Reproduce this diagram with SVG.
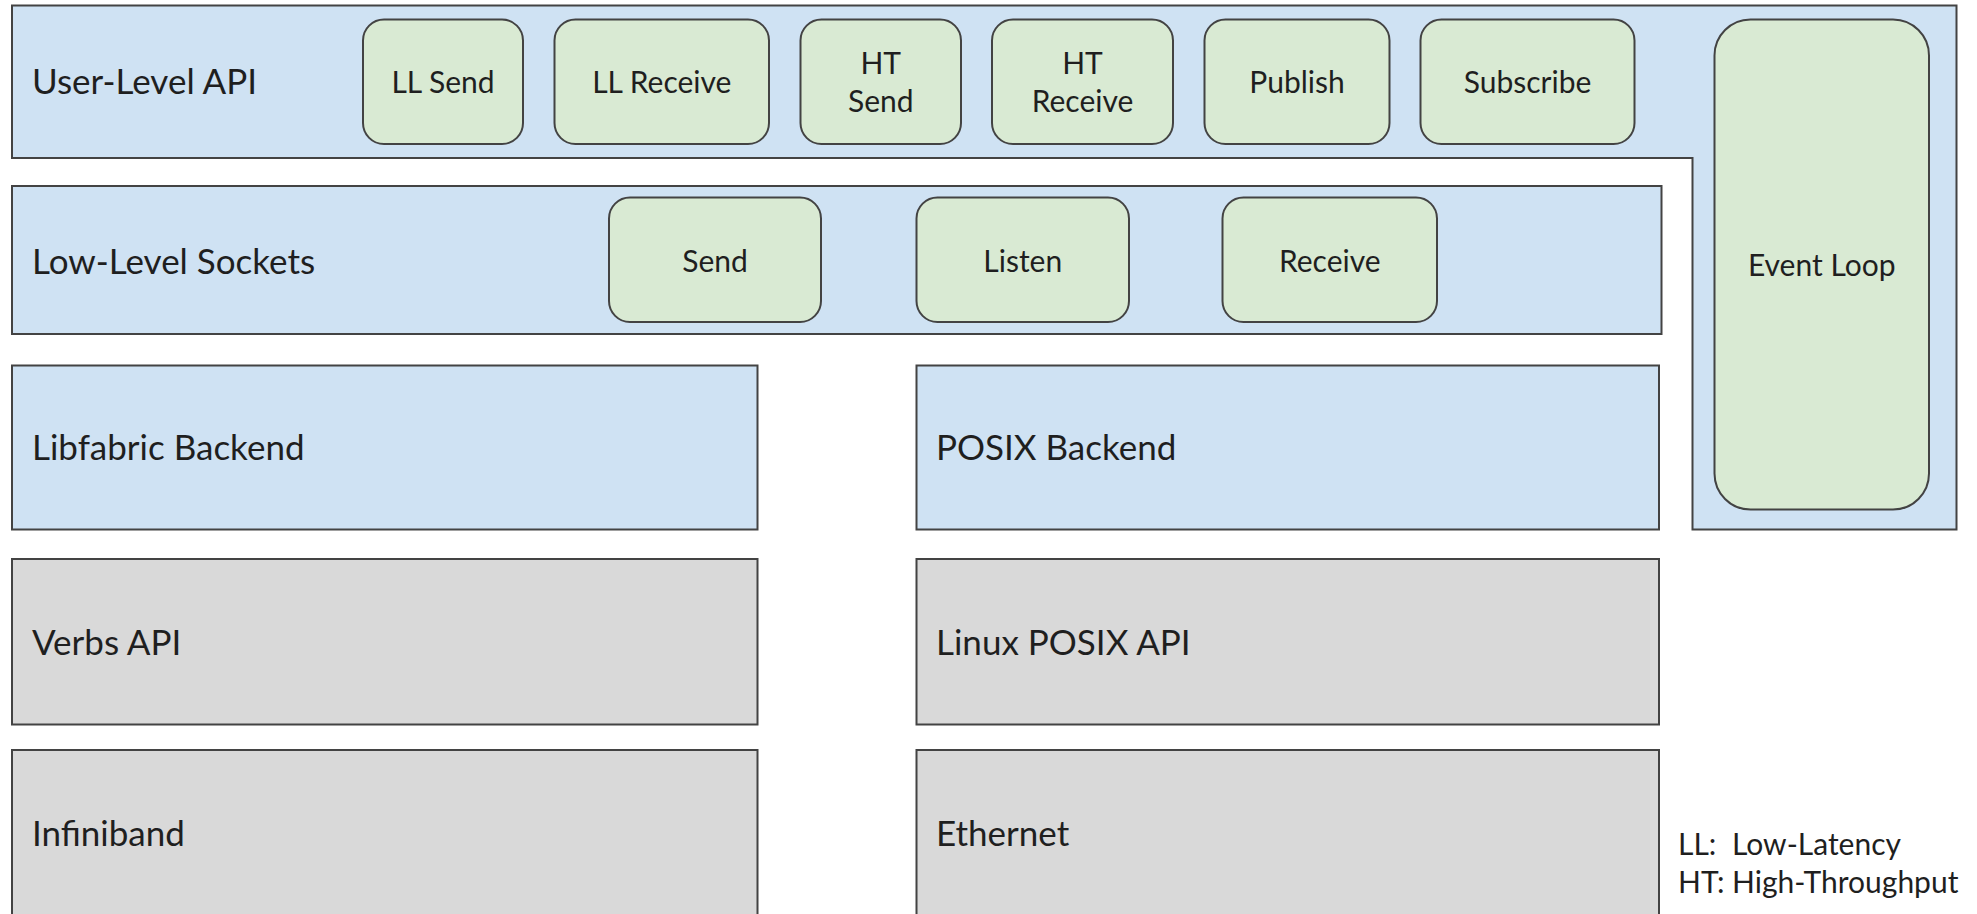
<svg xmlns="http://www.w3.org/2000/svg" width="1977" height="914" viewBox="0 0 1977 914">
  <style>
    .layer { fill: #cfe2f3; stroke: #434343; stroke-width: 2; }
    .hw { fill: #d9d9d9; stroke: #434343; stroke-width: 2; }
    .op { fill: #d9ead3; stroke: #434343; stroke-width: 2; }
    text { font-family: Lato, "Liberation Sans", sans-serif; fill: #1f1f1f; }
    .big { font-size: 35px; }
    .lbl { font-size: 30px; text-anchor: middle; }
    .note { font-size: 30px; }
  </style>
  <rect width="1977" height="914" fill="#ffffff"/>

  <!-- user-level API band, wrapping around the event loop column -->
  <g id="user-level-api">
    <path class="layer" d="M12 5.5 H1956.5 V529.5 H1692.5 V158 H12 Z"/>
    <text class="big" x="32" y="93.5">User-Level API</text>
  </g>
  <g id="ll-send">
    <rect class="op" x="363" y="19.5" width="160" height="124.5" rx="21"/>
    <text class="lbl" x="443" y="93.3">LL Send</text>
  </g>
  <g id="ll-receive">
    <rect class="op" x="554.5" y="19.5" width="214.5" height="124.5" rx="21"/>
    <text class="lbl" x="661.75" y="93.3">LL Receive</text>
  </g>
  <g id="ht-send">
    <rect class="op" x="800.5" y="19.5" width="160.5" height="124.5" rx="21"/>
    <text class="lbl" x="880.75" y="74">HT</text>
    <text class="lbl" x="880.75" y="111.7">Send</text>
  </g>
  <g id="ht-receive">
    <rect class="op" x="992" y="19.5" width="181" height="124.5" rx="21"/>
    <text class="lbl" x="1082.5" y="74">HT</text>
    <text class="lbl" x="1082.5" y="111.7">Receive</text>
  </g>
  <g id="publish">
    <rect class="op" x="1204.5" y="19.5" width="185" height="124.5" rx="21"/>
    <text class="lbl" x="1297" y="93.3">Publish</text>
  </g>
  <g id="subscribe">
    <rect class="op" x="1420.5" y="19.5" width="214" height="124.5" rx="21"/>
    <text class="lbl" x="1527.5" y="93.3">Subscribe</text>
  </g>
  <g id="event-loop">
    <rect class="op" x="1714.5" y="19.5" width="214.5" height="490" rx="36"/>
    <text class="lbl" x="1821.75" y="275.5">Event Loop</text>
  </g>

  <!-- low-level sockets band -->
  <g id="low-level-sockets">
    <rect class="layer" x="12" y="186" width="1649.5" height="148"/>
    <text class="big" x="32" y="273.5">Low-Level Sockets</text>
  </g>
  <g id="send">
    <rect class="op" x="609" y="197.5" width="212" height="124.5" rx="21"/>
    <text class="lbl" x="715" y="271.5">Send</text>
  </g>
  <g id="listen">
    <rect class="op" x="916.5" y="197.5" width="212.5" height="124.5" rx="21"/>
    <text class="lbl" x="1022.75" y="271.5">Listen</text>
  </g>
  <g id="receive">
    <rect class="op" x="1222.5" y="197.5" width="214.5" height="124.5" rx="21"/>
    <text class="lbl" x="1329.75" y="271.5">Receive</text>
  </g>

  <!-- backends -->
  <g id="libfabric-backend">
    <rect class="layer" x="12" y="365.5" width="745.5" height="164"/>
    <text class="big" x="32" y="460">Libfabric Backend</text>
  </g>
  <g id="posix-backend">
    <rect class="layer" x="916.5" y="365.5" width="742.5" height="164"/>
    <text class="big" x="936" y="460">POSIX Backend</text>
  </g>

  <!-- system APIs -->
  <g id="verbs-api">
    <rect class="hw" x="12" y="559" width="745.5" height="165.5"/>
    <text class="big" x="32" y="655">Verbs API</text>
  </g>
  <g id="linux-posix-api">
    <rect class="hw" x="916.5" y="559" width="742.5" height="165.5"/>
    <text class="big" x="936" y="655">Linux POSIX API</text>
  </g>

  <!-- physical networks -->
  <g id="infiniband">
    <rect class="hw" x="12" y="750" width="745.5" height="170"/>
    <text class="big" x="32" y="846">Infiniband</text>
  </g>
  <g id="ethernet">
    <rect class="hw" x="916.5" y="750" width="742.5" height="170"/>
    <text class="big" x="936" y="846">Ethernet</text>
  </g>

  <!-- abbreviations -->
  <g id="legend">
    <text class="note" x="1678" y="855">LL:<tspan x="1732">Low-Latency</tspan></text>
    <text class="note" x="1678" y="892.5">HT:<tspan x="1732">High-Throughput</tspan></text>
  </g>

  <g id="connectors"/>
</svg>
